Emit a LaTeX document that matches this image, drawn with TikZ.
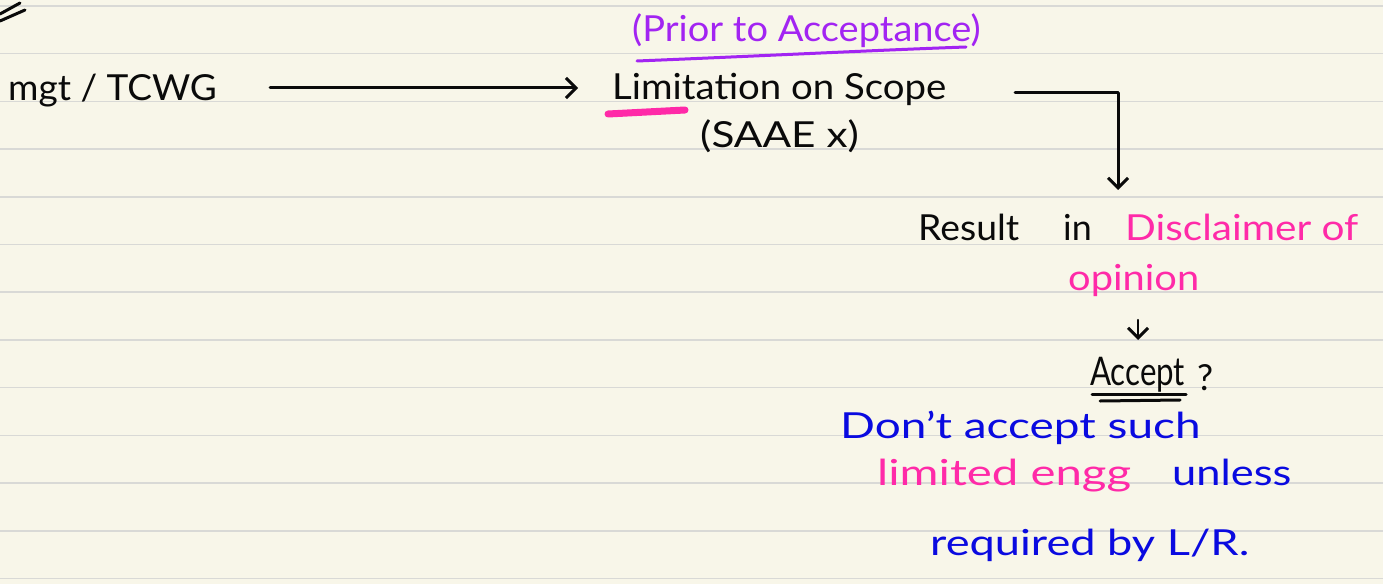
\documentclass[tikz,border=0pt]{standalone}
\usepackage{fontspec}
\setmainfont{Lato}
\usetikzlibrary{arrows.meta}
\definecolor{paper}{HTML}{F8F6E9}
\definecolor{rule}{HTML}{D9D9D6}
\definecolor{ink}{HTML}{0A0A0A}
\definecolor{inkpurple}{HTML}{A224F2}
\definecolor{inkpink}{HTML}{FF2AA8}
\definecolor{inkblue}{HTML}{0A0AE0}
\tikzset{
  hw/.style={inner sep=0pt, anchor=base west, font=\fontsize{36}{42}\selectfont},
  pen/.style={line width=3bp, line cap=round, line join=round},
  arr/.style={pen, -{Straight Barb[length=10bp,width=20bp,line width=3bp]}},
}
\begin{document}
\begin{tikzpicture}[x=1bp,y=-1bp]
\useasboundingbox (0,0) rectangle (1383,584);
\fill[paper] (0,0) rectangle (1383,584);
\foreach \k in {0,...,12}{
  \draw[rule, line width=1.6bp] (0,{6+47.7*\k}) -- (1383,{6+47.7*\k});
}
% stray strokes top-left
\draw[pen, ink] (0,14) -- (20,3);
\draw[pen, ink] (0,21) -- (25,10);

% texts
\node[hw, text=ink] (mgt) at (8,101) {\scalebox{1.03}[1]{mgt / TCWG}};
\node[hw, text=inkpurple] (prior) at (632,42) {\scalebox{1.06}[1]{(Prior to Acceptance)}};
\node[hw, text=ink] (lim) at (612,100) {\scalebox{1.07}[1]{Limitation on Scope}};
\node[hw, text=ink] (saae) at (700,148) {\scalebox{1.18}[1]{(SAAE x)}};
\node[hw, text=ink] (res) at (918,240) {\scalebox{1.04}[1]{Result}};
\node[hw, text=ink] (in) at (1063,240) {in};
\node[hw, text=inkpink] (disc) at (1125,240) {\scalebox{1.13}[1]{Disclaimer of}};
\node[hw, text=inkpink] (opin) at (1068,290) {\scalebox{1.11}[1]{opinion}};
\node[hw, text=ink] (acc) at (1090,385) {\scalebox{0.87}[1.1]{Accept}};
\node[hw, text=ink] (q) at (1197,390) {?};
\node[hw, text=inkblue] (dont) at (840,438) {\scalebox{1.28}[1]{Don't accept such}};
\node[hw, text=inkpink] (ltd) at (877,485) {\scalebox{1.32}[1]{limited engg}};
\node[hw, text=inkblue] (unl) at (1172,485) {\scalebox{1.21}[1]{unless}};
\node[hw, text=inkblue] (req) at (930,555) {\scalebox{1.26}[1]{required by L/R.}};

% underline and highlight
\draw[pen, inkpurple] (637,61) .. controls (760,56) and (880,50) .. (966,47);
\draw[line width=7bp, line cap=round, inkpink] (608,114) -- (685,110);
\draw[pen, ink] (1092,394) -- (1186,394);
\draw[pen, ink] (1100,401) -- (1180,400);

% connectors
\coordinate (bend) at (1118,93);
\draw[arr, ink] (270,88) -- ([xshift=-34bp]lim.west |- 0,88);
\draw[pen, ink] (1015,93) -- (bend);
\draw[arr, ink] (bend) -- (bend |- 0,190);
\draw[arr, ink, line width=2.2bp] (1138,320) -- (1138,340);
\end{tikzpicture}
\end{document}
